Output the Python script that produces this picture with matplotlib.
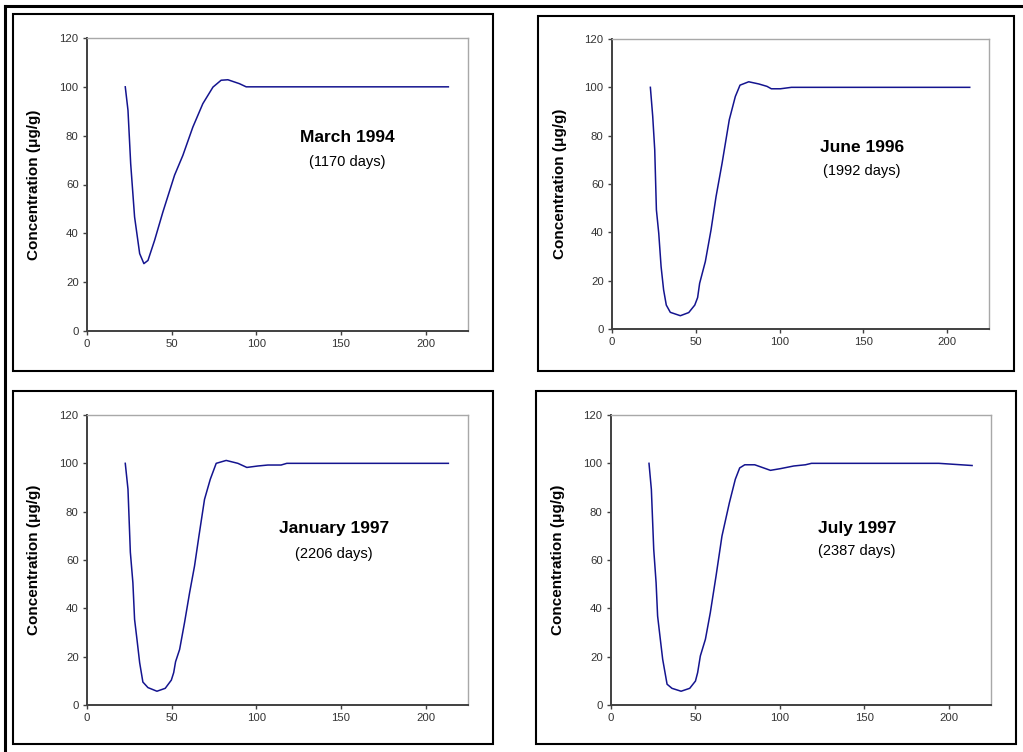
import matplotlib
matplotlib.use("Agg")
import matplotlib.pyplot as plt
from matplotlib.patches import Rectangle
from matplotlib.lines import Line2D

plt.rcParams['font.family'] = ['Liberation Sans', 'DejaVu Sans']

# Data (depth vs concentration)
mar94_x = [22.6, 24.2, 25.8, 28.1, 31.1, 33.6, 36.0, 39.9, 44.8, 51.7, 56.6, 62.5,
           68.4, 74.4, 79.2, 83.2, 90.0, 94.0, 213.4]
mar94_y = [100, 90.4, 68.5, 46.7, 31.7, 27.6, 28.9, 37.1, 48.7, 63.8, 71.9, 83.5,
           93.1, 99.9, 102.7, 102.9, 101.3, 100, 100]

jun96_x = [22.9, 24.3, 25.5, 26.5, 27.9, 29.3, 30.8, 32.4, 34.8, 40.8, 45.8, 49.4,
           51.1, 52.3, 55.7, 59.1, 62.1, 65.7, 70.0, 73.6, 76.4, 81.6, 87.6, 92.5,
           95.1, 100.5, 107.1, 213.5]
jun96_y = [100, 88, 74.2, 49.3, 39.6, 25.8, 16.2, 9.9, 6.9, 5.5, 6.8, 9.9,
           13.0, 18.9, 27.9, 41.0, 54.8, 68.6, 86.6, 96.2, 100.9, 102.3, 101.4, 100.4,
           99.4, 99.4, 100, 100]

jan97_x = [22.6, 24.2, 25.6, 27.1, 28.1, 29.5, 31.1, 33.0, 36.0, 41.3, 46.2, 49.8,
           51.2, 52.3, 54.7, 57.6, 60.6, 63.5, 66.1, 69.4, 72.8, 76.3, 82.2, 89.1,
           94.4, 100.9, 106.8, 114.6, 118.0, 213.4]
jan97_y = [100, 89.3, 63.2, 50.6, 35.4, 27.2, 17.5, 9.5, 7.2, 5.7, 6.9, 10.3,
           13.4, 17.9, 23.0, 34.1, 46.5, 57.5, 69.9, 85.1, 93.4, 100, 101.2, 100,
           98.3, 98.9, 99.3, 99.3, 100, 100]

jul97_x = [22.5, 23.9, 25.3, 26.7, 27.6, 29.2, 30.6, 33.2, 36.1, 41.5, 46.6, 50.0,
           51.3, 52.9, 55.9, 58.8, 62.2, 65.7, 70.1, 73.6, 76.2, 79.2, 85.1, 94.4,
           100.3, 108.2, 115.1, 118.7, 194.1, 213.8]
jul97_y = [100, 89.2, 64.4, 50.6, 36.8, 27.2, 18.9, 8.6, 6.9, 5.7, 6.9, 9.9,
           13.4, 20.3, 27.2, 38.2, 53.4, 69.9, 83.7, 93.4, 98.1, 99.4, 99.4, 97.1,
           97.8, 98.9, 99.4, 100, 100, 99.1]

titles = ["March 1994", "June 1996", "January 1997", "July 1997"]
subtitles = ["(1170 days)", "(1992 days)", "(2206 days)", "(2387 days)"]
series = [(mar94_x, mar94_y), (jun96_x, jun96_y), (jan97_x, jan97_y), (jul97_x, jul97_y)]

W, H = 1023, 752
fig = plt.figure(figsize=(W / 100, H / 100), dpi=100)


def fx(px):
    return px / W


def fy(py):
    return 1 - py / H


# pixel layout: axes (left, right, top, bottom), box, title centres
axes_px = [(87, 468, 38, 331), (612, 989, 39, 329), (87, 468, 415, 705), (611, 991, 415, 705)]
boxes_px = [(13, 493, 14, 371), (538, 1014, 16, 371), (13, 493, 391, 744), (536, 1016, 391, 744)]
title_px = [(347, 138, 162), (862, 147, 171), (334, 529, 554), (857, 529, 551)]

# outer frame (top and left edges)
fig.add_artist(Line2D([fx(5), 1], [fy(6), fy(6)], color='black', lw=2.2))
fig.add_artist(Line2D([fx(5), fx(5)], [0, fy(6)], color='black', lw=2.2))

for i in range(4):
    bl, br, bt, bb = boxes_px[i]
    fig.add_artist(Rectangle((fx(bl), fy(bb)), fx(br - bl), (bb - bt) / H,
                             fill=False, edgecolor='black', lw=1.5))

    l, r, t, b = axes_px[i]
    ax = fig.add_axes([fx(l), fy(b), fx(r - l), (b - t) / H])
    x, y = series[i]
    ax.plot(x, y, color='#14148f', lw=1.1)
    ax.set_xlim(0, 225)
    ax.set_ylim(0, 120)
    ax.set_xticks([0, 50, 100, 150, 200])
    ax.set_yticks([0, 20, 40, 60, 80, 100, 120])
    for s in ['left', 'bottom']:
        ax.spines[s].set_color('#404040')
        ax.spines[s].set_linewidth(1.4)
    for s in ['top', 'right']:
        ax.spines[s].set_color('#a8a8a8')
        ax.spines[s].set_linewidth(1.0)
    ax.tick_params(direction='out', length=3, width=1, colors='#404040',
                   labelsize=8.2, labelcolor='#333333', pad=3)
    ax.set_ylabel('Concentration (μg/g)', fontsize=11, fontweight='bold')
    ax.yaxis.set_label_coords(-0.12, 0.5)

    cx, ty, sy = title_px[i]
    fig.text(fx(cx), fy(ty), titles[i], ha='center', va='center',
             fontsize=12.5, fontweight='bold')
    fig.text(fx(cx), fy(sy), subtitles[i], ha='center', va='center', fontsize=10.5)

fig.savefig('out.png', dpi=100)
